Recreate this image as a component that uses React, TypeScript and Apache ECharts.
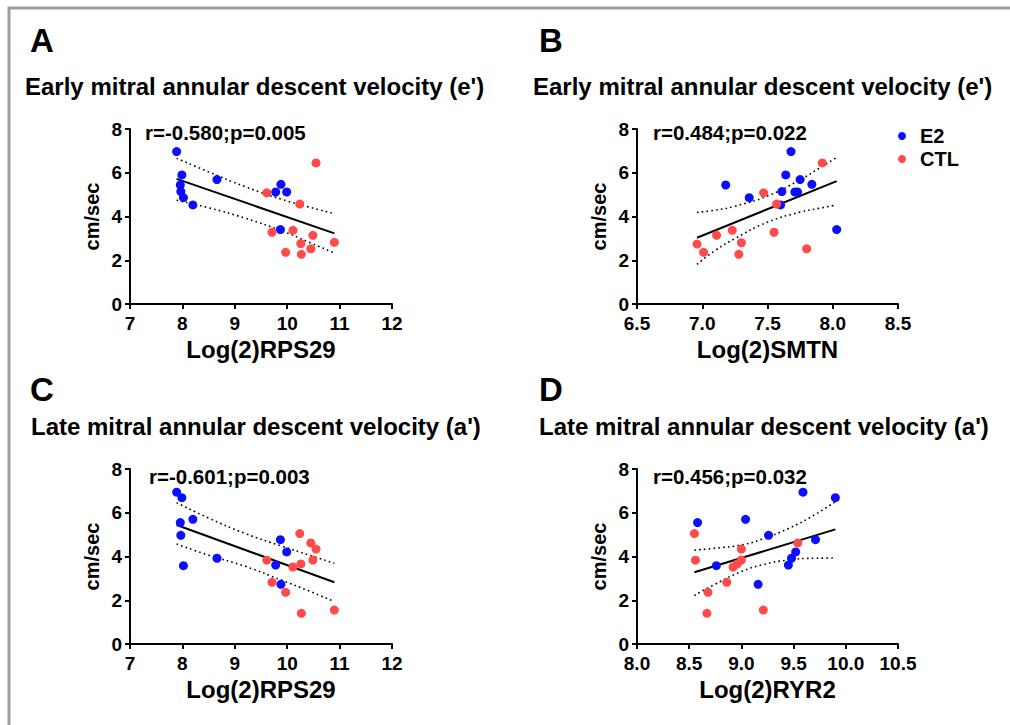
import React, { useEffect, useRef } from 'react';
import * as echarts from 'echarts';

const FONT = '"Liberation Sans", Arial, Helvetica, sans-serif';
const BLUE = '#0d0dff';
const RED = '#ff4a4a';

// Panel labels and titles
const panelLetters = ['A', 'B', 'C', 'D'];
const panelTitles = [
  "Early mitral annular descent velocity (e')",
  "Early mitral annular descent velocity (e')",
  "Late mitral annular descent velocity (a')",
  "Late mitral annular descent velocity (a')",
];
const statTexts = ['r=-0.580;p=0.005', 'r=0.484;p=0.022', 'r=-0.601;p=0.003', 'r=0.456;p=0.032'];
const xNames = ['Log(2)RPS29', 'Log(2)SMTN', 'Log(2)RPS29', 'Log(2)RYR2'];
const yName = 'cm/sec';
const legendNames = ['E2', 'CTL'];

// x-axis ranges
const xMins = [7, 6.5, 7, 8];
const xMaxs = [12, 8.5, 12, 10.5];
const xSteps = [1, 0.5, 1, 0.5];
const xDecimals = [0, 1, 0, 1];
const yTicks = [0, 2, 4, 6, 8];

// Panel A: e' vs RPS29
const aE2: [number, number][] = [
  [7.89, 6.97], [7.99, 5.9], [7.96, 5.44], [7.97, 5.14], [8.02, 4.86], [8.2, 4.53],
  [8.66, 5.69], [9.78, 5.12], [9.88, 5.47], [9.99, 5.12], [9.87, 3.4],
];
const aCTL: [number, number][] = [
  [9.61, 5.08], [10.55, 6.45], [10.24, 4.57], [9.71, 3.28], [10.11, 3.37], [10.49, 3.14],
  [10.26, 2.76], [10.9, 2.82], [9.97, 2.36], [10.27, 2.27], [10.45, 2.52],
];
const aFit: [number, number][] = [[7.89, 5.72], [10.9, 3.23]];
const aUpper: [number, number][] = [[7.89, 6.66], [8.5, 6.04], [9.2, 5.36], [9.9, 4.78], [10.4, 4.44], [10.9, 4.13]];
const aLower: [number, number][] = [[7.89, 4.74], [8.5, 4.4], [9.2, 3.92], [9.9, 3.34], [10.4, 2.84], [10.9, 2.33]];

// Panel B: e' vs SMTN
const bE2: [number, number][] = [
  [7.18, 5.44], [7.36, 4.86], [7.61, 5.14], [7.6, 4.53], [7.64, 5.9], [7.68, 6.97],
  [7.71, 5.12], [7.73, 5.12], [7.75, 5.69], [7.84, 5.47], [8.03, 3.4],
];
const bCTL: [number, number][] = [
  [6.96, 2.74], [7.01, 2.36], [7.11, 3.14], [7.23, 3.37], [7.28, 2.27], [7.3, 2.8],
  [7.47, 5.08], [7.55, 3.28], [7.57, 4.57], [7.8, 2.52], [7.92, 6.45],
];
const bFit: [number, number][] = [[6.96, 3.03], [8.03, 5.62]];
const bUpper: [number, number][] = [[6.96, 4.19], [7.1, 4.29], [7.25, 4.47], [7.5, 4.94], [7.75, 5.68], [7.9, 6.22], [8.03, 6.7]];
const bLower: [number, number][] = [[6.96, 1.81], [7.1, 2.45], [7.25, 2.99], [7.5, 3.74], [7.75, 4.2], [7.9, 4.38], [8.03, 4.53]];

// Panel C: a' vs RPS29
const cE2: [number, number][] = [
  [7.89, 6.94], [7.99, 6.69], [7.96, 5.55], [7.97, 4.97], [8.02, 3.58], [8.2, 5.7],
  [8.66, 3.92], [9.78, 3.61], [9.87, 4.77], [9.99, 4.21], [9.88, 2.73],
];
const cCTL: [number, number][] = [
  [9.61, 3.83], [9.71, 2.82], [9.97, 2.36], [10.11, 3.52], [10.24, 5.05], [10.26, 3.66],
  [10.27, 1.4], [10.45, 4.62], [10.49, 3.84], [10.55, 4.34], [10.9, 1.55],
];
const cFit: [number, number][] = [[7.89, 5.44], [10.9, 2.82]];
const cUpper: [number, number][] = [[7.89, 6.46], [8.5, 5.76], [9.2, 5.05], [9.9, 4.47], [10.4, 4.08], [10.9, 3.69]];
const cLower: [number, number][] = [[7.89, 4.57], [8.5, 4.06], [9.2, 3.55], [9.9, 2.91], [10.4, 2.44], [10.9, 1.94]];

// Panel D: a' vs RYR2
const dE2: [number, number][] = [
  [8.58, 5.55], [8.76, 3.58], [9.04, 5.7], [9.16, 2.73], [9.26, 4.97], [9.45, 3.61],
  [9.48, 3.92], [9.52, 4.21], [9.59, 6.94], [9.71, 4.77], [9.9, 6.69],
];
const dCTL: [number, number][] = [
  [8.55, 5.05], [8.56, 3.83], [8.67, 1.4], [8.68, 2.36], [8.86, 2.82], [8.92, 3.52],
  [8.96, 3.66], [9.0, 3.84], [9.0, 4.34], [9.21, 1.55], [9.54, 4.62],
];
const dFit: [number, number][] = [[8.55, 3.28], [9.9, 5.24]];
const dUpper: [number, number][] = [[8.55, 4.29], [8.75, 4.38], [9.0, 4.53], [9.2, 4.8], [9.45, 5.28], [9.7, 5.9], [9.9, 6.51]];
const dLower: [number, number][] = [[8.55, 2.22], [8.75, 2.74], [9.0, 3.31], [9.2, 3.62], [9.45, 3.84], [9.7, 3.92], [9.9, 3.93]];

const panelE2 = [aE2, bE2, cE2, dE2];
const panelCTL = [aCTL, bCTL, cCTL, dCTL];
const panelFit = [aFit, bFit, cFit, dFit];
const panelUpper = [aUpper, bUpper, cUpper, dUpper];
const panelLower = [aLower, bLower, cLower, dLower];

// Layout (pixels)
const gridLefts = [130, 637, 130, 637];
const gridTops = [129, 129, 469, 469];
const gridWidths = [262, 261, 262, 261];
const gridHeight = 175;
const letterPos = [[30, 40], [539, 40], [30, 389], [539, 389]];
const titlePos = [[25, 86], [533, 86], [31, 426], [539, 426]];
const statPos = [[145, 132], [653, 132], [149, 476], [653, 476]];

function buildOption(): any {
  const grids: any[] = [];
  const xAxes: any[] = [];
  const yAxes: any[] = [];
  const series: any[] = [];
  const graphics: any[] = [];

  const axisCommon = {
    axisLine: { show: true, onZero: false, lineStyle: { color: '#000', width: 2 } },
    axisTick: { show: true, length: 5, lineStyle: { color: '#000', width: 2 } },
    splitLine: { show: false },
  };
  const labelStyle = { color: '#000', fontFamily: FONT, fontWeight: 'bold', fontSize: 19 };

  for (let i = 0; i < 4; i++) {
    grids.push({ left: gridLefts[i], top: gridTops[i], width: gridWidths[i], height: gridHeight, containLabel: false });
    const dec = xDecimals[i];
    xAxes.push({
      type: 'value', gridIndex: i, min: xMins[i], max: xMaxs[i], interval: xSteps[i],
      ...axisCommon,
      axisLabel: { ...labelStyle, margin: 10, formatter: (v: number) => v.toFixed(dec) },
      name: xNames[i], nameLocation: 'middle', nameGap: 33,
      nameTextStyle: { color: '#000', fontFamily: FONT, fontWeight: 'bold', fontSize: 24 },
    });
    yAxes.push({
      type: 'value', gridIndex: i, min: yTicks[0], max: yTicks[yTicks.length - 1], interval: yTicks[1] - yTicks[0],
      ...axisCommon,
      axisLabel: { ...labelStyle, margin: 8 },
      name: yName, nameLocation: 'middle', nameGap: 28, nameRotate: 90,
      nameTextStyle: { color: '#000', fontFamily: FONT, fontWeight: 'bold', fontSize: 20 },
    });

    series.push({
      type: 'line', xAxisIndex: i, yAxisIndex: i, data: panelUpper[i], smooth: true, symbol: 'none',
      silent: true, lineStyle: { color: '#000', width: 1.6, type: [1.6, 3.2] }, z: 2,
    });
    series.push({
      type: 'line', xAxisIndex: i, yAxisIndex: i, data: panelLower[i], smooth: true, symbol: 'none',
      silent: true, lineStyle: { color: '#000', width: 1.6, type: [1.6, 3.2] }, z: 2,
    });
    series.push({
      type: 'line', xAxisIndex: i, yAxisIndex: i, data: panelFit[i], symbol: 'none',
      silent: true, lineStyle: { color: '#000', width: 2 }, z: 2,
    });
    series.push({
      type: 'scatter', name: legendNames[0], xAxisIndex: i, yAxisIndex: i, data: panelE2[i],
      symbol: 'circle', symbolSize: 9, itemStyle: { color: BLUE, opacity: 1 }, z: 3,
    });
    series.push({
      type: 'scatter', name: legendNames[1], xAxisIndex: i, yAxisIndex: i, data: panelCTL[i],
      symbol: 'circle', symbolSize: 9, itemStyle: { color: RED, opacity: 1 }, z: 3,
    });

    graphics.push({
      type: 'text', x: letterPos[i][0], y: letterPos[i][1],
      style: { text: panelLetters[i], font: `bold 33px ${FONT}`, fill: '#000', verticalAlign: 'middle', align: 'left' },
    });
    graphics.push({
      type: 'text', x: titlePos[i][0], y: titlePos[i][1],
      style: { text: panelTitles[i], font: `bold 24px ${FONT}`, fill: '#000', verticalAlign: 'middle', align: 'left' },
    });
    graphics.push({
      type: 'text', x: statPos[i][0], y: statPos[i][1],
      style: { text: statTexts[i], font: `bold 20.5px ${FONT}`, fill: '#000', verticalAlign: 'middle', align: 'left' },
    });
  }

  graphics.push({
    type: 'rect', shape: { x: 9, y: 8, width: 1040, height: 760 }, silent: true,
    style: { fill: 'none', stroke: '#9e9e9e', lineWidth: 3 }, z: -10,
  });

  return {
    animation: false,
    backgroundColor: '#fff',
    grid: grids,
    xAxis: xAxes,
    yAxis: yAxes,
    series,
    graphic: graphics,
    legend: {
      data: legendNames, orient: 'vertical', left: 893, top: 121, itemWidth: 8, itemHeight: 8, itemGap: 3,
      icon: 'circle', selectedMode: false,
      textStyle: { color: '#000', fontFamily: FONT, fontWeight: 'bold', fontSize: 20, padding: [0, 0, 0, 9] },
    },
  };
}

export default function App() {
  const ref = useRef<HTMLDivElement>(null);
  useEffect(() => {
    if (!ref.current) return;
    const chart = echarts.init(ref.current, null, { renderer: 'svg' });
    chart.setOption(buildOption());
    return () => chart.dispose();
  }, []);
  return (
    <div
      ref={ref}
      style={{ position: 'absolute', left: 0, top: 0, width: 1010, height: 725, background: '#fff' }}
    />
  );
}
